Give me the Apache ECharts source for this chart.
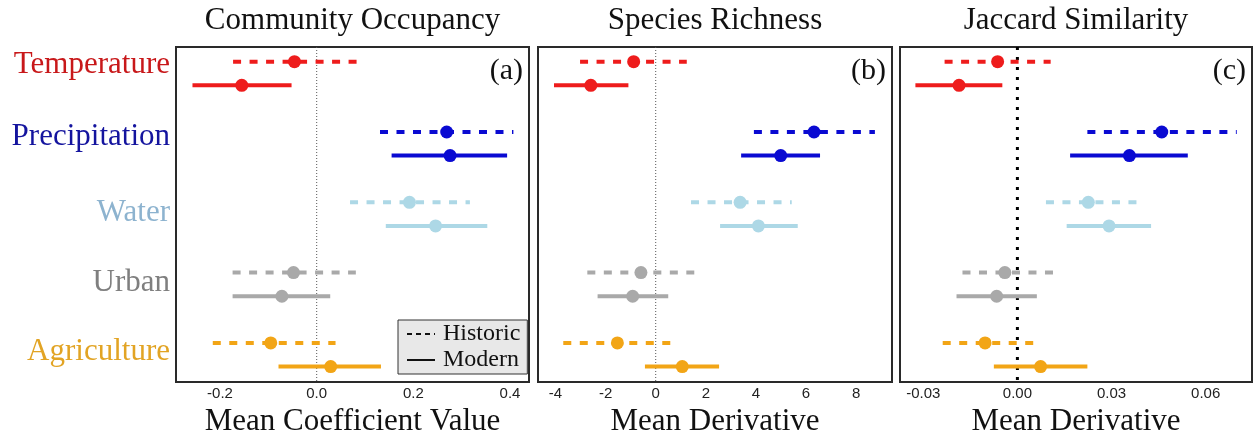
<!DOCTYPE html>
<html>
<head>
<meta charset="utf-8">
<script src="https://cdn.jsdelivr.net/npm/echarts@6/dist/echarts.min.js"></script>
<style>html,body{margin:0;padding:0;background:#fff;}#c{width:1254px;height:436px;}</style>
</head>
<body>
<div id="c"></div>
<script>
// ---- data ----
const categories = ['Temperature', 'Precipitation', 'Water', 'Urban', 'Agriculture'];
const panelTitles = ['Community Occupancy', 'Species Richness', 'Jaccard Similarity'];
const panelTags = ['(a)', '(b)', '(c)'];
const axisTitles = ['Mean Coefficient Value', 'Mean Derivative', 'Mean Derivative'];
const eras = ['Historic', 'Modern'];

const ticksA = [-0.2, 0, 0.2, 0.4];
const tickLabelsA = ['-0.2', '0.0', '0.2', '0.4'];
const ticksB = [-4, -2, 0, 2, 4, 6, 8];
const tickLabelsB = ['-4', '-2', '0', '2', '4', '6', '8'];
const ticksC = [-0.03, 0, 0.03, 0.06];
const tickLabelsC = ['-0.03', '0.00', '0.03', '0.06'];

// (a) Community occupancy
const occHistMid = [-0.046, 0.269, 0.192, -0.048, -0.095];
const occHistLo  = [-0.173, 0.131, 0.069, -0.174, -0.215];
const occHistHi  = [0.083, 0.407, 0.317, 0.081, 0.039];
const occModMid  = [-0.155, 0.276, 0.246, -0.072, 0.029];
const occModLo   = [-0.257, 0.155, 0.143, -0.174, -0.079];
const occModHi   = [-0.052, 0.394, 0.353, 0.028, 0.133];

// (b) Species richness
const richHistMid = [-0.88, 6.32, 3.37, -0.59, -1.53];
const richHistLo  = [-3.02, 3.92, 1.41, -2.73, -3.69];
const richHistHi  = [1.24, 8.75, 5.43, 1.54, 0.64];
const richModMid  = [-2.59, 4.99, 4.10, -0.92, 1.06];
const richModLo   = [-4.06, 3.41, 2.57, -2.32, -0.43];
const richModHi   = [-1.09, 6.56, 5.67, 0.50, 2.53];

// (c) Jaccard similarity
const jacHistMid = [-0.0063, 0.0460, 0.0226, -0.0040, -0.0103];
const jacHistLo  = [-0.0232, 0.0223, 0.0091, -0.0175, -0.0238];
const jacHistHi  = [0.0106, 0.0699, 0.0380, 0.0114, 0.0051];
const jacModMid  = [-0.0186, 0.0357, 0.0292, -0.0066, 0.0074];
const jacModLo   = [-0.0325, 0.0168, 0.0157, -0.0194, -0.0075];
const jacModHi   = [-0.0048, 0.0543, 0.0426, 0.0062, 0.0223];

// ---- styling ----
const markColors = ['#ee1c1c', '#0a0ad2', '#add8e6', '#a9a9a9', '#f2a516'];
const labelColors = ['#c8181a', '#14149e', '#8db3cf', '#7f7f7f', '#e2a424'];
const serif = '"Liberation Serif", "DejaVu Serif", serif';
const sans = '"Liberation Sans", Arial, sans-serif';

const panels = [
  { hist: [occHistLo, occHistMid, occHistHi], mod: [occModLo, occModMid, occModHi],
    ticks: ticksA, tickLabels: tickLabelsA, min: -0.2911, max: 0.4393,
    grid: { left: 176, top: 47, width: 353, height: 335 } },
  { hist: [richHistLo, richHistMid, richHistHi], mod: [richModLo, richModMid, richModHi],
    ticks: ticksB, tickLabels: tickLabelsB, min: -4.699, max: 9.433,
    grid: { left: 538, top: 47, width: 354, height: 335 } },
  { hist: [jacHistLo, jacHistMid, jacHistHi], mod: [jacModLo, jacModMid, jacModHi],
    ticks: ticksC, tickLabels: tickLabelsC, min: -0.03741, max: 0.07476,
    grid: { left: 900, top: 47, width: 352, height: 335 } }
];

const eraOffset = [-0.168, 0.168];   // row position within a group
const yMin = -0.377, yMax = 4.388;
const labelRows = [-0.12, 0.90, 1.98, 2.98, 3.96];

const grids = [], xAxes = [], yAxes = [], series = [], graphics = [];

panels.forEach((p, pi) => {
  grids.push(Object.assign({ show: true, borderColor: '#2a2a2a', borderWidth: 2, backgroundColor: '#fff',
    containLabel: false, outerBoundsMode: 'none' }, p.grid));
  xAxes.push({
    type: 'value', gridIndex: pi, min: p.min, max: p.max,
    axisLine: { show: false }, splitLine: { show: false },
    axisTick: { show: false },
    axisLabel: {
      customValues: p.ticks,
      formatter: (v) => { const k = p.ticks.findIndex(t => Math.abs(t - v) < 1e-9); return k >= 0 ? p.tickLabels[k] : ''; },
      fontFamily: sans, fontSize: 15, color: '#222', margin: 4
    },
    name: axisTitles[pi], nameLocation: 'middle', nameGap: 21,
    nameTextStyle: { fontFamily: serif, fontSize: 31, color: '#111' }
  });
  yAxes.push({
    type: 'value', gridIndex: pi, min: yMin, max: yMax, inverse: true,
    axisLine: { show: false }, splitLine: { show: false }, axisTick: { show: false },
    axisLabel: pi === 0 ? {
      customValues: labelRows,
      formatter: (v) => { const k = labelRows.findIndex(t => Math.abs(t - v) < 1e-9); return k >= 0 ? '{c' + k + '|' + categories[k] + '}' : ''; },
      margin: 6,
      rich: Object.fromEntries(labelColors.map((c, k) => ['c' + k, { color: c, fontFamily: serif, fontSize: 31 }]))
    } : { show: false }
  });

  // zero reference line
  series.push({
    type: 'line', xAxisIndex: pi, yAxisIndex: pi, symbol: 'none', silent: true,
    data: [[0, yMin], [0, yMax]], z: 1,
    lineStyle: pi === 2 ? { color: '#000', width: 3, type: [3, 7] } : { color: '#555', width: 1, type: [1, 2] }
  });

  [p.hist, p.mod].forEach((arr, ei) => {
    const [lo, mid, hi] = arr;
    categories.forEach((cat, ci) => {
      const y = ci + eraOffset[ei];
      series.push({
        type: 'line', xAxisIndex: pi, yAxisIndex: pi, symbol: 'none', silent: true, z: 2,
        data: [[lo[ci], y], [hi[ci], y]],
        lineStyle: { color: markColors[ci], width: 4, type: ei === 0 ? [8, 8.5] : 'solid', cap: 'butt' }
      });
    });
    series.push({
      type: 'scatter', xAxisIndex: pi, yAxisIndex: pi, symbolSize: 13, z: 3, silent: true,
      data: categories.map((cat, ci) => ({ value: [mid[ci], ci + eraOffset[ei]], itemStyle: { color: markColors[ci], opacity: 1 } }))
    });
  });

  const cx = p.grid.left + p.grid.width / 2;
  graphics.push({ type: 'text', x: cx, y: 21, style: { text: panelTitles[pi], font: '31px ' + serif, fill: '#111', align: 'center', verticalAlign: 'middle' } });
  graphics.push({ type: 'text', x: p.grid.left + p.grid.width - 6, y: 71, z: 10, style: { text: panelTags[pi], font: '30px ' + serif, fill: '#111', align: 'right', verticalAlign: 'middle' } });
});

// legend dummy series (panel a)
eras.forEach((e, ei) => {
  series.push({
    name: e, type: 'line', xAxisIndex: 0, yAxisIndex: 0, symbol: 'none', data: [],
    lineStyle: { color: '#111', width: 2.5, type: ei === 0 ? [5, 4] : 'solid' }, itemStyle: { color: '#111' }
  });
});

const chart = echarts.init(document.getElementById('c'), null, { renderer: 'canvas' });
chart.setOption({
  animation: false,
  backgroundColor: '#fff',
  grid: grids, xAxis: xAxes, yAxis: yAxes, series: series,
  legend: {
    data: eras, orient: 'vertical', left: 398, top: 320,
    backgroundColor: '#e8e8e8', borderColor: '#333', borderWidth: 1, borderRadius: 0,
    padding: [2, 7, 2, 8], itemGap: 2, itemWidth: 28, itemHeight: 14,
    itemStyle: { opacity: 0 },
    lineStyle: { opacity: 1 },
    textStyle: { fontFamily: serif, fontSize: 24, color: '#111', padding: [0, 0, 0, 3] },
    selectedMode: false
  },
  graphic: graphics
});
</script>
</body>
</html>
